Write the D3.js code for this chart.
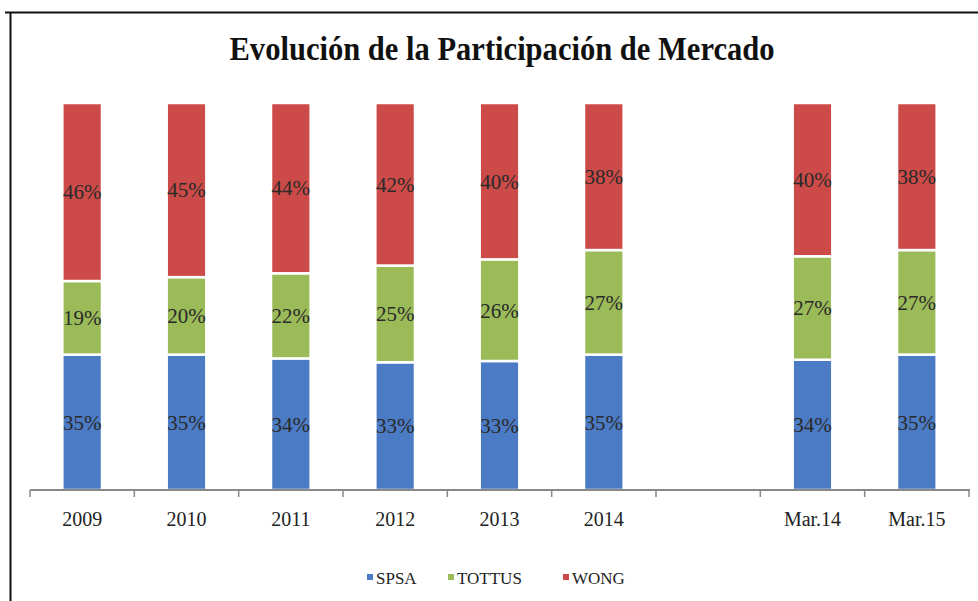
<!DOCTYPE html>
<html>
<head>
    <meta charset="utf-8">
    <title>Participacion de Mercado</title>
    <script src="https://d3js.org/d3.v7.min.js"></script>
    <style>
        body { margin: 0; background: #fff; }
        svg text { font-family: "Liberation Serif", Tinos, "Times New Roman", serif !important; }
    </style>
</head>
<body>
<div id="chart"></div>
<script type="text/javascript">
    // categories (empty slot between 2014 and Mar.14)
    const categories = ['2009', '2010', '2011', '2012', '2013', '2014', 'gap', 'Mar.14', 'Mar.15'];
    const series = ['SPSA', 'TOTTUS', 'WONG'];
    const spsa = [35, 35, 34, 33, 33, 35, null, 34, 35];
    const tottus = [19, 20, 22, 25, 26, 27, null, 27, 27];
    const wong = [46, 45, 44, 42, 40, 38, null, 40, 38];

    const width = 978;
    const height = 601;
    const colors = {SPSA: '#4a7bc4', TOTTUS: '#9bbb59', WONG: '#cc4a48'};

    const svg = d3.select('#chart').append('svg')
        .attr('width', width).attr('height', height);

    // frame
    svg.append('line').attr('x1', 5).attr('x2', width).attr('y1', 12.5).attr('y2', 12.5)
        .attr('stroke', '#111').attr('stroke-width', 2);
    svg.append('line').attr('x1', 10.5).attr('x2', 10.5).attr('y1', 12).attr('y2', height)
        .attr('stroke', '#111').attr('stroke-width', 2);

    // title (condensed look)
    svg.append('text')
        .attr('x', 502).attr('y', 60)
        .attr('text-anchor', 'middle')
        .attr('font-size', 33).attr('font-weight', 'bold')
        .attr('textLength', 545).attr('lengthAdjust', 'spacingAndGlyphs')
        .attr('fill', '#111')
        .text('Evolución de la Participación de Mercado');

    const x = d3.scaleBand().domain(categories).range([30, 969])
        .paddingInner(0.62).paddingOuter(0.31);
    const y = d3.scaleLinear().domain([0, 1]).range([490, 103]);

    // build rows, skip the empty slot
    const rows = categories.map((c, i) => ({cat: c, SPSA: spsa[i], TOTTUS: tottus[i], WONG: wong[i]}))
        .filter(d => d.SPSA !== null);

    const stacked = d3.stack().keys(series).offset(d3.stackOffsetExpand)(rows);

    const layers = svg.selectAll('g.layer')
        .data(stacked)
        .enter().append('g')
        .attr('class', 'layer')
        .attr('fill', d => colors[d.key]);

    layers.selectAll('rect')
        .data(d => d)
        .enter().append('rect')
        .attr('x', d => x(d.data.cat))
        .attr('width', x.bandwidth())
        .attr('y', d => y(d[1]))
        .attr('height', d => y(d[0]) - y(d[1]))
        .attr('stroke', '#fff')
        .attr('stroke-width', 2.5);

    // value labels
    stacked.forEach(layer => {
        svg.append('g').selectAll('text')
            .data(layer)
            .enter().append('text')
            .attr('x', d => x(d.data.cat) + x.bandwidth() / 2)
            .attr('y', d => (y(d[0]) + y(d[1])) / 2)
            .attr('dy', '0.35em')
            .attr('text-anchor', 'middle')
            .attr('font-size', 21)
            .attr('fill', '#2a2a2a')
            .text(d => d.data[layer.key] + '%');
    });

    // axis line and boundary ticks
    const step = x.step();
    const bounds = d3.range(categories.length + 1).map(i => 30 + i * step);
    const axisG = svg.append('g');
    axisG.append('line').attr('x1', 30).attr('x2', 970).attr('y1', 490).attr('y2', 490)
        .attr('stroke', '#888').attr('stroke-width', 2);
    axisG.selectAll('line.tick')
        .data(bounds)
        .enter().append('line')
        .attr('class', 'tick')
        .attr('x1', d => d).attr('x2', d => d)
        .attr('y1', 490).attr('y2', 497)
        .attr('stroke', '#888').attr('stroke-width', 1.5);

    const xAxis = svg.append('g')
        .attr('transform', 'translate(0,490)')
        .call(d3.axisBottom(x).tickSize(0).tickPadding(22)
            .tickFormat(d => d === 'gap' ? '' : d));
    xAxis.select('.domain').remove();
    xAxis.selectAll('text')
        .attr('font-size', 20)
        .attr('fill', '#222');

    // legend
    const legendX = [367, 448, 563];
    const legend = svg.append('g');
    series.forEach((s, i) => {
        legend.append('rect')
            .attr('x', legendX[i]).attr('y', 574)
            .attr('width', 6).attr('height', 6)
            .attr('fill', colors[s]);
        legend.append('text')
            .attr('x', legendX[i] + 9).attr('y', 584)
            .attr('font-size', 17)
            .attr('fill', '#222')
            .text(s);
    });
</script>
</body>
</html>
